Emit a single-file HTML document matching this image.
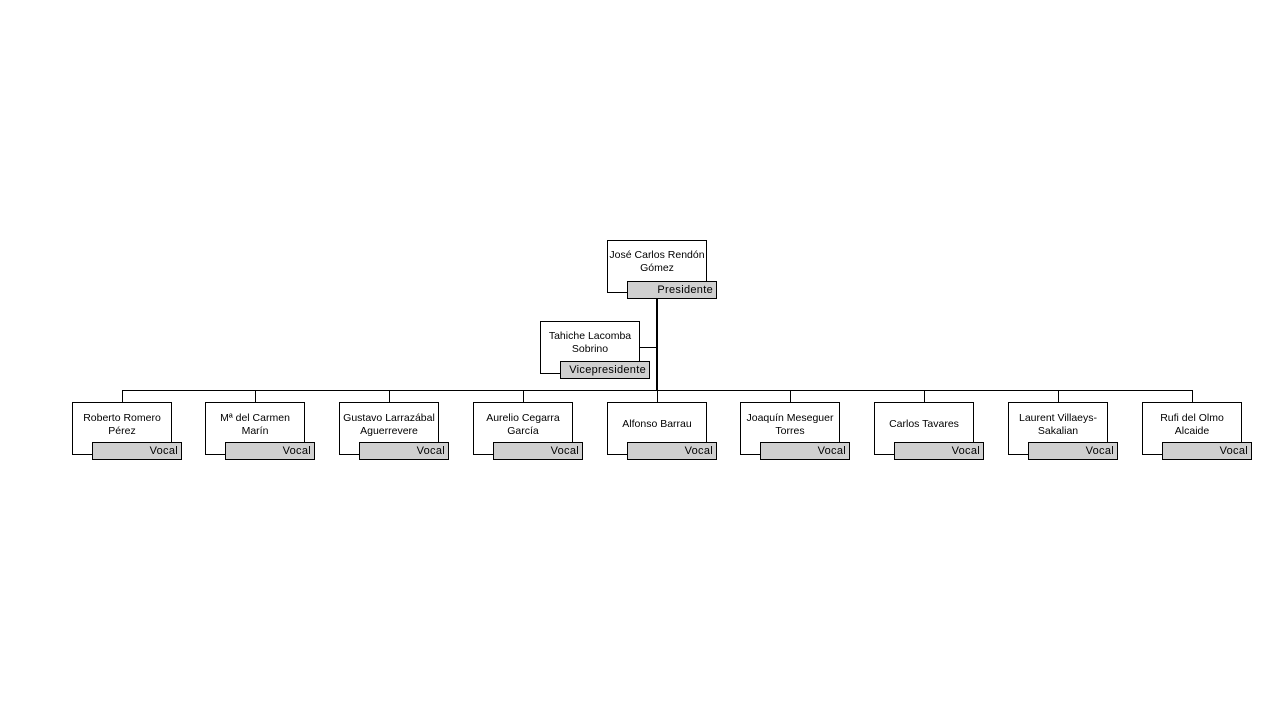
<!DOCTYPE html>
<html><head><meta charset="utf-8"><style>
body{margin:0;width:1280px;height:720px;background:#fff;position:relative;overflow:hidden;font-family:"Liberation Sans",sans-serif;}
.b{position:absolute;width:98px;height:51px;border:1px solid #000;background:#fff;box-sizing:content-box;font-size:10.5px;line-height:13px;text-align:center;color:#000;}
.b span{display:block;padding-top:8px;}
.l{position:absolute;width:88px;height:16px;border:1px solid #000;background:#d0d0d0;font-size:11px;line-height:16px;text-align:right;box-sizing:content-box;letter-spacing:0.3px;}
.l i{font-style:normal;padding-right:3px;}
.h{position:absolute;background:#000;}
</style></head><body>
<div class="h" style="left:656px;top:297px;width:2px;height:94px"></div>
<div class="h" style="left:639px;top:347px;width:18px;height:1px"></div>
<div class="h" style="left:122px;top:390px;width:1070px;height:1px"></div>

<div class="b" style="left:607px;top:240px"><span>José Carlos Rendón Gómez</span></div>
<div class="l" style="left:627px;top:281px"><i>Presidente</i></div>

<div class="b" style="left:540px;top:321px"><span>Tahiche Lacomba Sobrino</span></div>
<div class="l" style="left:560px;top:361px"><i>Vicepresidente</i></div>

<div id="v"></div>
<script>
var names=["Roberto Romero Pérez","Mª del Carmen Marín","Gustavo Larrazábal Aguerrevere","Aurelio Cegarra García","Alfonso Barrau","Joaquín Meseguer Torres","Carlos Tavares","Laurent Villaeys-Sakalian","Rufi del Olmo Alcaide"];
var h="";
for(var i=0;i<9;i++){
 var x=Math.floor(72+i*133.75);
 var one=(i==4||i==6);
 h+='<div class="h" style="left:'+(x+50)+'px;top:390px;width:1px;height:12px"></div>';
 h+='<div class="b" style="left:'+x+'px;top:402px"><span style="padding-top:'+(one?15:9)+'px">'+names[i]+'</span></div>';
 h+='<div class="l" style="left:'+(x+20)+'px;top:442px"><i>Vocal</i></div>';
}
document.getElementById("v").innerHTML=h;
</script>
</body></html>
